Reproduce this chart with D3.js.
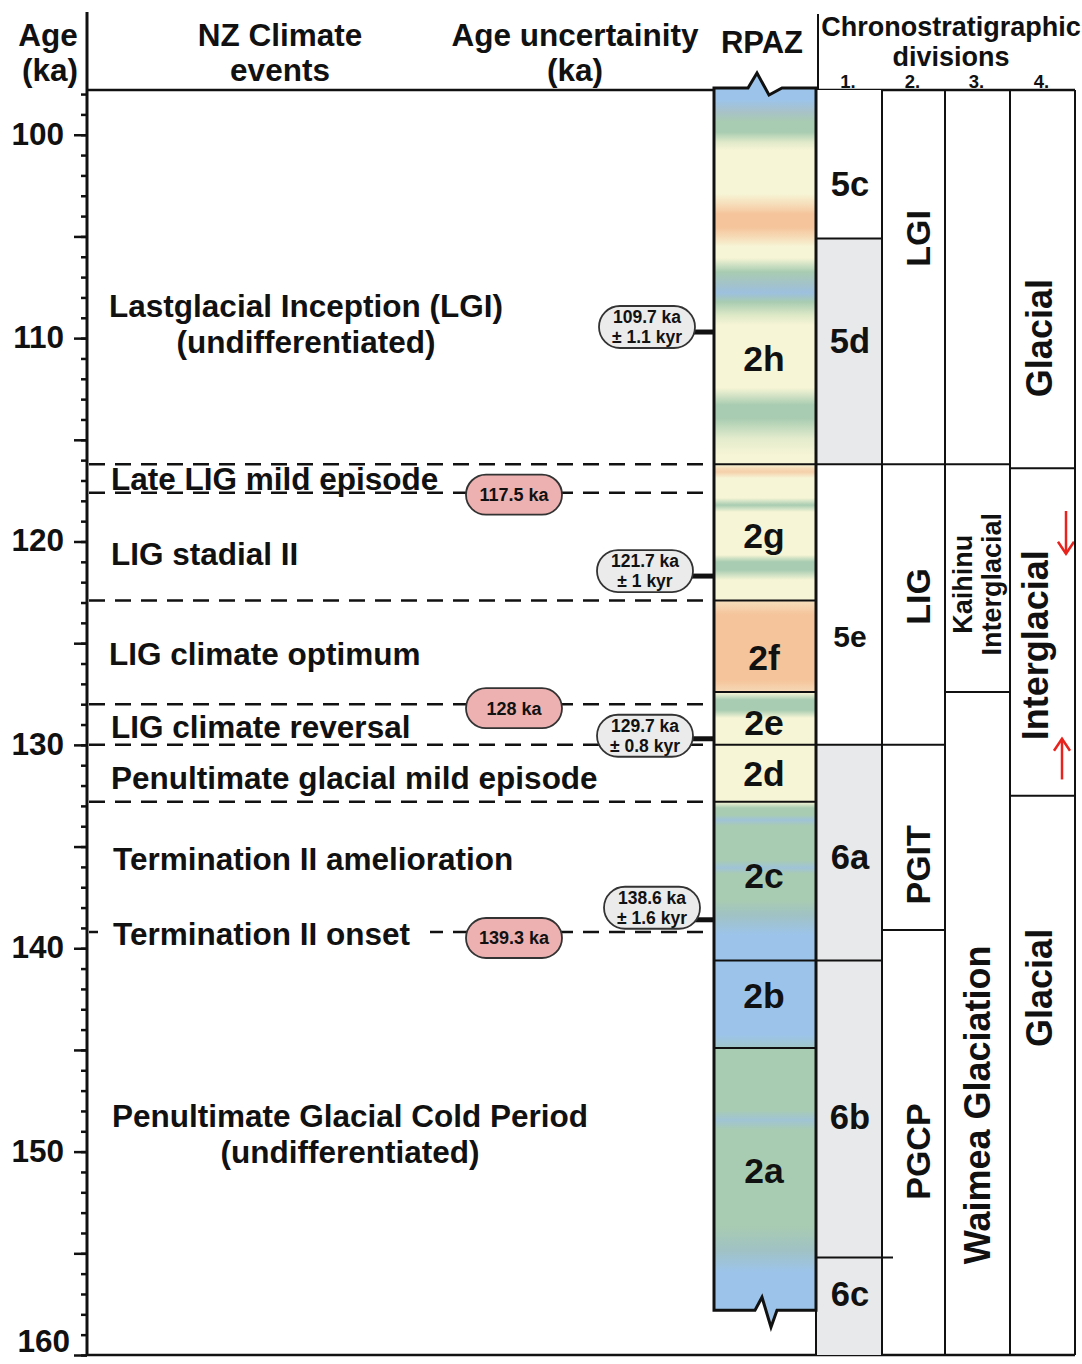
<!DOCTYPE html>
<html><head><meta charset="utf-8">
<script src="https://cdn.jsdelivr.net/npm/d3@7"></script>
<style>
body{margin:0;background:#fff}
svg{display:block}
text{font-family:"Liberation Sans",Arial,Helvetica,sans-serif;font-weight:bold;fill:#111}
</style>
</head><body>
<svg id="c" width="1082" height="1364"></svg>
<script>
// ---------------- DATA ----------------
const ageDomain = [97.8, 160];
const labelTicks = [100, 110, 120, 130, 140, 150, 160];

// NZ climate events
const eventNames = [
  ["Lastglacial Inception (LGI)", "(undifferentiated)"],
  ["Late LIG mild episode"],
  ["LIG stadial II"],
  ["LIG climate optimum"],
  ["LIG climate reversal"],
  ["Penultimate glacial mild episode"],
  ["Termination II amelioration"],
  ["Termination II onset"],
  ["Penultimate Glacial Cold Period", "(undifferentiated)"]
];
const eventLabelAges = [109.3, 116.9, 120.6, 125.5, 129.1, 131.6, 135.6, 139.3, 149.1];
const eventBoundaries = [116.2, 117.6, 122.9, 128.0, 130.0, 132.8, 139.2];

// Event ages (red badges)
const eventAgeValues = [117.5, 128, 139.3];
// Age uncertainty (grey badges)
const uncAges = [109.7, 121.7, 129.7, 138.6];
const uncErrors = ["1.1", "1", "0.8", "1.6"];

// RPAZ zones
const zoneNames = ["2h", "2g", "2f", "2e", "2d", "2c", "2b", "2a"];
const zoneBounds = [97.7, 116.2, 122.9, 127.4, 130.0, 132.8, 140.6, 144.9, 157.8];
const zoneLabelAges = [111.0, 119.7, 125.7, 128.9, 131.4, 136.4, 142.3, 150.9];

// RPAZ colour profile (age, colour)
const B = "#9cc4ea", G = "#a8ccb1", C = "#f6f5d6", O = "#f5c49b";
const gradAges = [97.7, 98.29, 98.88, 99.37, 99.87, 100.36, 100.75, 102.9, 103.45, 103.9, 104.55, 105.05, 105.5, 106.06,
  106.75, 107.39, 107.78, 108.22, 108.86, 109.35, 112.45, 113.29, 113.93, 114.91, 115.75, 116.24, 116.39, 116.58,
  116.88, 117.86, 118.21, 118.55, 120.66, 121.0, 121.4, 121.89, 122.88, 122.97, 123.61, 126.81, 127.38, 127.45,
  127.79, 128.29, 128.68, 132.81, 133.1, 133.45, 133.69, 133.99, 135.66, 136.05, 136.35, 137.63, 138.36, 139.35,
  144.26, 144.81, 144.95, 147.95, 148.44, 148.94, 153.61, 154.84, 155.92, 157.8];
const gradColors = [B, B, "#a8c2c8", G, G, "#dfe9c9", C, C, "#f6dcb8", O, O, "#f6dcb8", C, C,
  G, "#a2c2cc", "#9dc0df", G, "#dce8c6", C, C, G, G, "#e2ebcc", C, C, "#f6dcb8", "#f5cfaa",
  C, C, G, C, C, G, G, C, C, "#f6dcb9", O, O, "#f6d8b6", C,
  G, G, C, C, G, G, "#a0c3d8", G, G, "#a0c3d8", G, G, "#a0c2c4", B,
  B, "#9fc6cc", G, G, "#a0c4d4", G, G, "#a0c2c4", B, B];

// Chronostratigraphic divisions
const col1Names = ["5c", "5d", "5e", "6a", "6b", "6c"];
const col1Bounds = [97.8, 105.1, 116.2, 130.0, 140.6, 155.2, 160];
const col1Grey = [false, true, false, true, true, true];
const col1LabelAges = [102.4, 110.1, 124.65, 135.5, 148.3, 157.0];

const col2Names = ["LGI", "LIG", "PGIT", "PGCP"];
const col2Bounds = [97.8, 116.2, 130.0, 139.1, 160];
const col2LabelAges = [105.1, 122.7, 135.9, 150.0];

const col3Names = [[], ["Kaihinu", "Interglacial"], ["Waimea Glaciation"]];
const col3Bounds = [97.8, 116.2, 127.4, 160];
const col3LabelAges = [null, 122.1, 147.7];

const col4Names = ["Glacial", "Interglacial", "Glacial"];
const col4Bounds = [97.8, 116.4, 132.5, 160];
const col4LabelAges = [110.0, 125.1, 141.95];

// Red arrows in column 4 (age from, age to)
const arrowSpans = [[118.5, 120.6], [131.7, 129.7]];

// ---------------- LAYOUT ----------------
const svg = d3.select("#c");
const y = d3.scaleLinear().domain(ageDomain).range([90, 1355]);
const axisX = 87;
const rp = {x0: 714, x1: 816};
const colX = [816, 882, 945, 1010, 1075];
const FONT = '"Liberation Sans",Arial,Helvetica,sans-serif';
const EV = 31.5;

// gradient
const defs = svg.append("defs");
const grad = defs.append("linearGradient").attr("id", "rpaz")
  .attr("gradientUnits", "userSpaceOnUse")
  .attr("x1", 0).attr("x2", 0)
  .attr("y1", y(gradAges[0])).attr("y2", y(gradAges[gradAges.length - 1]));
const gy0 = y(gradAges[0]), gy1 = y(gradAges[gradAges.length - 1]);
gradAges.forEach((a, i) => {
  grad.append("stop").attr("offset", (y(a) - gy0) / (gy1 - gy0)).attr("stop-color", gradColors[i]);
});

// ---------------- HEADERS ----------------
function hText(x, yy, s, size, anchor) {
  return svg.append("text").attr("x", x).attr("y", yy).attr("font-size", size)
    .attr("text-anchor", anchor || "middle").text(s);
}
hText(48, 46, "Age", 31.5);
hText(50, 81, "(ka)", 31.5);
hText(280, 46, "NZ Climate", 31.5);
hText(280, 81, "events", 31.5);
hText(575, 46, "Age uncertainity", 31.5);
hText(575, 81, "(ka)", 31.5);
hText(762, 53, "RPAZ", 31);
hText(951, 36, "Chronostratigraphic", 27);
hText(951, 66, "divisions", 27);
["1.", "2.", "3.", "4."].forEach((s, i) => hText((colX[i] + colX[i + 1]) / 2 - 1, 88, s, 18.5));

// ---------------- AXIS ----------------
const minorAxis = d3.axisLeft(y).tickValues(d3.range(98, 161, 1)).tickSize(6).tickFormat("");
const midAxis = d3.axisLeft(y).tickValues(d3.range(100, 161, 5)).tickSize(13)
  .tickFormat(d => labelTicks.includes(d) ? d : "").tickPadding(10);
[minorAxis, midAxis].forEach(ax => {
  const g = svg.append("g").attr("transform", `translate(${axisX},0)`).call(ax);
  g.select(".domain").remove();
  g.selectAll("line").attr("stroke", "#111").attr("stroke-width", 2.5);
  g.selectAll("text").attr("font-size", 31.5).attr("font-family", FONT).attr("font-weight", "bold").attr("fill", "#111")
    .attr("dy", d => d === 160 ? "-0.12em" : "0.3em")
    .attr("x", d => d === 160 ? -17 : -23);
});
svg.append("line").attr("x1", axisX).attr("x2", axisX).attr("y1", 12).attr("y2", y(160))
  .attr("stroke", "#111").attr("stroke-width", 3);

// header line and bottom line
svg.append("line").attr("x1", axisX).attr("x2", rp.x0).attr("y1", 90).attr("y2", 90).attr("stroke", "#111").attr("stroke-width", 2.5);
svg.append("line").attr("x1", colX[0]).attr("x2", colX[4]).attr("y1", 90).attr("y2", 90).attr("stroke", "#111").attr("stroke-width", 2.5);
svg.append("line").attr("x1", axisX).attr("x2", colX[4]).attr("y1", y(160)).attr("y2", y(160)).attr("stroke", "#111").attr("stroke-width", 2.5);
svg.append("line").attr("x1", 818).attr("x2", 818).attr("y1", 14).attr("y2", 90).attr("stroke", "#111").attr("stroke-width", 2);

// ---------------- CHRONO COLUMNS ----------------
col1Names.forEach((n, i) => {
  const t = y(col1Bounds[i]), b = y(col1Bounds[i + 1]);
  svg.append("rect").attr("x", colX[0]).attr("y", t).attr("width", colX[1] - colX[0]).attr("height", b - t)
    .attr("fill", col1Grey[i] ? "#e8e9eb" : "#fff");
  svg.append("text").attr("x", (colX[0] + colX[1]) / 2 + 1).attr("y", y(col1LabelAges[i])).attr("dy", "0.36em")
    .attr("text-anchor", "middle").attr("font-size", n === "5e" ? 30 : 34.5).text(n);
});
function hLines(bounds, x0, x1, extra) {
  bounds.slice(1, -1).forEach(a => {
    svg.append("line").attr("x1", x0).attr("x2", x1 + (extra && extra(a) || 0)).attr("y1", y(a)).attr("y2", y(a))
      .attr("stroke", "#111").attr("stroke-width", 2);
  });
}
hLines(col1Bounds, colX[0], colX[1], a => a === 155.2 ? 11 : 0);
hLines(col2Bounds, colX[1], colX[2]);
hLines(col3Bounds, colX[2], colX[3]);
hLines(col4Bounds, colX[3], colX[4]);

function rotText(cx, age, s, size) {
  svg.append("text").attr("transform", `translate(${cx},${y(age)}) rotate(-90)`)
    .attr("text-anchor", "middle").attr("dy", "0.36em").attr("font-size", size).text(s);
}
col2Names.forEach((n, i) => rotText((colX[1] + colX[2]) / 2 + 4, col2LabelAges[i], n, 34));
col3Names.forEach((lines, i) => {
  if (!lines.length) return;
  if (lines.length === 2) {
    rotText((colX[2] + colX[3]) / 2 - 15, col3LabelAges[i], lines[0], 27);
    rotText((colX[2] + colX[3]) / 2 + 14, col3LabelAges[i], lines[1], 27);
  } else rotText((colX[2] + colX[3]) / 2, col3LabelAges[i], lines[0], 36);
});
col4Names.forEach((n, i) => rotText((colX[3] + colX[4]) / 2 - (i === 1 ? 7 : 3), col4LabelAges[i], n, 36));

// red arrows
arrowSpans.forEach((s, i) => {
  const ax = i === 0 ? 1066 : 1062;
  const y0 = y(s[0]), y1 = y(s[1]);
  const dir = y1 > y0 ? 1 : -1;
  svg.append("line").attr("x1", ax).attr("x2", ax).attr("y1", y0).attr("y2", y1).attr("stroke", "#e8231d").attr("stroke-width", 2.5);
  svg.append("path").attr("d", `M${ax - 8},${y1 - dir * 12}L${ax},${y1}L${ax + 8},${y1 - dir * 12}`)
    .attr("fill", "none").attr("stroke", "#e8231d").attr("stroke-width", 2.5);
});

// vertical column borders
colX.forEach(x => {
  svg.append("line").attr("x1", x).attr("x2", x).attr("y1", 90).attr("y2", y(160))
    .attr("stroke", "#111").attr("stroke-width", 2);
});

// ---------------- EVENT BOUNDARIES ----------------
eventBoundaries.forEach(a => {
  svg.append("line").attr("x1", axisX + 2).attr("x2", rp.x0).attr("y1", y(a)).attr("y2", y(a))
    .attr("stroke", "#111").attr("stroke-width", 2.5).attr("stroke-dasharray", "16,10");
});

// ---------------- EVENT LABELS ----------------
eventNames.forEach((lines, i) => {
  const cy = y(eventLabelAges[i]);
  if (lines.length === 2) {
    const cx = i === 0 ? 306 : 350;
    lines.forEach((s, j) => {
      svg.append("text").attr("x", cx).attr("y", cy + (j - 0.5) * 36).attr("dy", "0.36em")
        .attr("text-anchor", "middle").attr("font-size", EV).text(s);
    });
  } else {
    const lx = i === 3 ? 109 : (i >= 6 ? 113 : 111);
    if (i === 7) {
      svg.append("rect").attr("x", 98).attr("y", cy - 18).attr("width", 332).attr("height", 34).attr("fill", "#fff");
    }
    svg.append("text").attr("x", lx).attr("y", cy).attr("dy", "0.36em").attr("font-size", EV).text(lines[0]);
  }
});

// ---------------- RPAZ COLUMN ----------------
const yt = y(zoneBounds[0]), yb = y(zoneBounds[zoneBounds.length - 1]);
const outline = `M${rp.x0},${yt} L748,${yt} L757,${yt - 15} L769,${yt + 7} L782,${yt} L${rp.x1},${yt}
  L${rp.x1},${yb} L777,${yb} L771,${yb + 17} L762,${yb - 13} L755,${yb} L${rp.x0},${yb} Z`;
svg.append("path").attr("d", outline).attr("fill", "url(#rpaz)");
zoneBounds.slice(1, -1).forEach(a => {
  svg.append("line").attr("x1", rp.x0).attr("x2", rp.x1).attr("y1", y(a)).attr("y2", y(a)).attr("stroke", "#111").attr("stroke-width", 2);
});
svg.append("path").attr("d", outline).attr("fill", "none").attr("stroke", "#111").attr("stroke-width", 3).attr("stroke-linejoin", "miter");
zoneNames.forEach((n, i) => {
  svg.append("text").attr("x", 764).attr("y", y(zoneLabelAges[i])).attr("dy", "0.36em")
    .attr("text-anchor", "middle").attr("font-size", 35.5).text(n);
});

// ---------------- BADGES ----------------
eventAgeValues.forEach(a => {
  const cy = y(a) + 4;
  svg.append("rect").attr("x", 466).attr("y", cy - 20).attr("width", 96).attr("height", 40).attr("rx", 20)
    .attr("fill", "#eeb1b1").attr("stroke", "#333").attr("stroke-width", 1.8);
  svg.append("text").attr("x", 514).attr("y", cy).attr("dy", "0.36em").attr("text-anchor", "middle")
    .attr("font-size", 18).text(`${a} ka`);
});
const uncDy = [-5, -5, -3, -12];
const uncDx = [0, -2, -2, 5];
uncAges.forEach((a, i) => {
  const ly = y(a);
  svg.append("line").attr("x1", 690).attr("x2", rp.x0).attr("y1", ly).attr("y2", ly).attr("stroke", "#111").attr("stroke-width", 5);
  const cx = 647 + uncDx[i], cy = ly + uncDy[i];
  svg.append("rect").attr("x", cx - 48).attr("y", cy - 21).attr("width", 96).attr("height", 42).attr("rx", 21)
    .attr("fill", "#ebebeb").attr("stroke", "#333").attr("stroke-width", 1.8);
  svg.append("text").attr("x", cx).attr("y", cy - 10).attr("dy", "0.36em").attr("text-anchor", "middle")
    .attr("font-size", 17.5).text(`${a} ka`);
  svg.append("text").attr("x", cx).attr("y", cy + 10).attr("dy", "0.36em").attr("text-anchor", "middle")
    .attr("font-size", 17.5).text(`± ${uncErrors[i]} kyr`);
});
</script>
</body></html>
